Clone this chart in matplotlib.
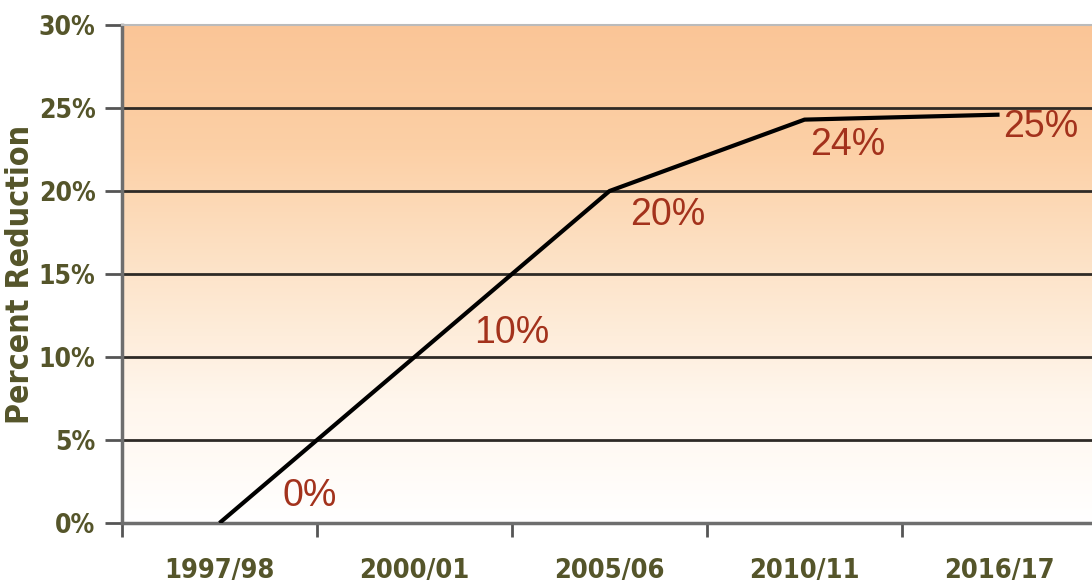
import numpy as np
import matplotlib.pyplot as plt
from matplotlib.colors import LinearSegmentedColormap

years = ['1997/98', '2000/01', '2005/06', '2010/11', '2016/17']
reduction = [0, 10, 20, 24.3, 24.6]
labels = ['0%', '10%', '20%', '24%', '25%']
label_offsets = [(0.46, 1.6), (0.5, 1.45), (0.3, -1.45), (0.22, -1.5), (0.21, -0.75)]

olive = '#55552a'
red = '#a3321c'

fig = plt.figure(figsize=(10.92, 5.88), dpi=100)
ax = fig.add_axes([122 / 1092, 65 / 588, 970 / 1092, 498 / 588])

x = np.arange(len(years))
xlim = (-0.5, 4.474)

# background gradient white -> orange
cmap = LinearSegmentedColormap.from_list('bg', ['#ffffff', '#fff6ec', '#fde4ca', '#fcd0a6', '#fac597'])
grad = np.linspace(0, 1, 256).reshape(-1, 1)
ax.imshow(grad, extent=[xlim[0], xlim[1], 0, 30], origin='lower', aspect='auto',
          cmap=cmap, zorder=0)

for yv in range(5, 30, 5):
    ax.axhline(yv, color='#2e2a26', lw=2, zorder=1)

ax.plot(x, reduction, color='black', lw=3, zorder=3, solid_capstyle='butt')

for xi, yi, lab, (dx, dy) in zip(x, reduction, labels, label_offsets):
    ax.text(xi + dx, yi + dy, lab, color=red, fontsize=27, family='Liberation Sans',
            ha='center', va='center', zorder=4)

tick_font = dict(family='DejaVu Sans', fontstretch='condensed', fontweight='bold', color=olive)
ax.set_xlim(*xlim)
ax.set_ylim(0, 30)
ax.set_yticks(range(0, 31, 5))
ax.set_yticklabels([f'{v}%' for v in range(0, 31, 5)], fontsize=19, **tick_font)
ax.set_xticks(x)
ax.set_xticklabels(years, fontsize=19.5, **tick_font)
ax.set_xticks(np.arange(-0.5, 4.5, 1), minor=True)
ax.tick_params(axis='x', which='major', length=0, pad=25)
ax.tick_params(axis='x', which='minor', length=10, width=2, color='#555555')
ax.tick_params(axis='y', length=12, width=2, color='#555555', pad=7)

ax.set_ylabel('Percent Reduction', fontsize=23, labelpad=2, **tick_font)

for side in ['left', 'bottom']:
    ax.spines[side].set_color('#6e6e6e')
    ax.spines[side].set_linewidth(2.5)
ax.spines['right'].set_visible(False)
ax.spines['top'].set_color('#bbbbbb')
ax.spines['top'].set_linewidth(1.5)

fig.savefig('out.png', dpi=100)
